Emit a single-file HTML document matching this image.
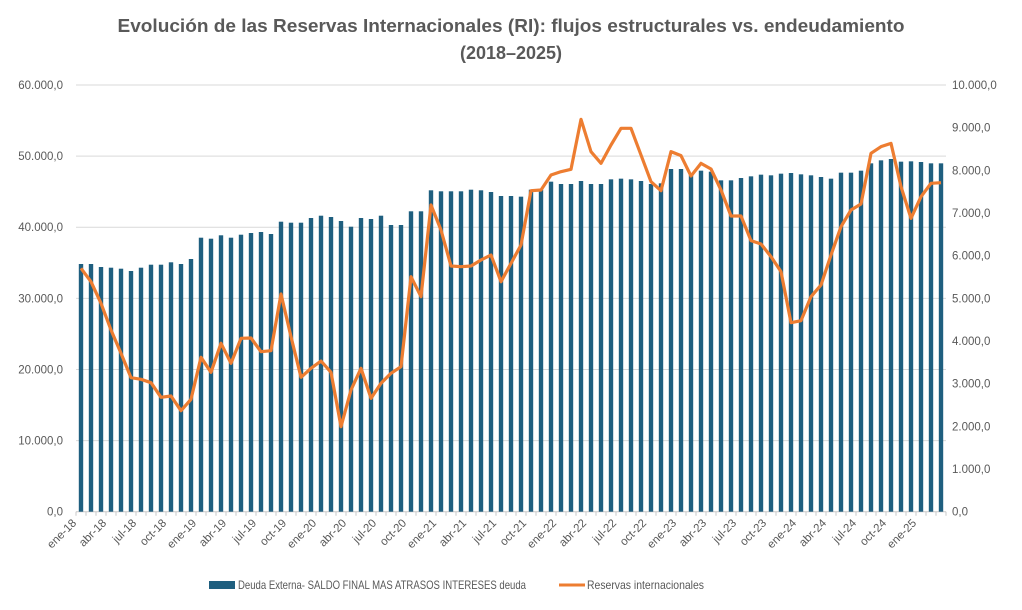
<!DOCTYPE html>
<html><head><meta charset="utf-8"><style>
body{margin:0;background:#fff;}
svg{display:block;font-family:"Liberation Sans",Arial,sans-serif;}
</style></head><body>
<svg id="c" width="1022" height="610" viewBox="0 0 1022 610" xmlns="http://www.w3.org/2000/svg">
<rect width="1022" height="610" fill="#fff"/>
<text x="511" y="32" text-anchor="middle" font-size="18" font-weight="bold" fill="#595959" textLength="787" lengthAdjust="spacingAndGlyphs">Evolución de las Reservas Internacionales (RI): flujos estructurales vs. endeudamiento</text>
<text x="511" y="59" text-anchor="middle" font-size="18" font-weight="bold" fill="#595959">(2018–2025)</text>
<g id="grid"></g><g id="bars"></g><g id="ax"></g>
<polyline id="line" fill="none" stroke="#ED7D31" stroke-width="3.2" stroke-linejoin="round"/>
<rect x="209" y="581" width="26" height="8" fill="#1F5F7F"/>
<text x="238" y="589" font-size="12" fill="#595959" textLength="288" lengthAdjust="spacingAndGlyphs">Deuda Externa- SALDO FINAL MAS ATRASOS INTERESES deuda</text>
<line x1="559" y1="585" x2="585" y2="585" stroke="#ED7D31" stroke-width="3"/>
<text x="587" y="589" font-size="12" fill="#595959" textLength="117" lengthAdjust="spacingAndGlyphs">Reservas internacionales</text>
</svg>
<script>
var ns="http://www.w3.org/2000/svg";
function el(t,a,p,tx){var e=document.createElementNS(ns,t);for(var k in a)e.setAttribute(k,a[k]);if(tx!==undefined)e.textContent=tx;document.getElementById(p).appendChild(e);return e;}
var L=76,R=946,B=511.7,T=85,step=(R-L)/87;
var ll=["0,0","10.000,0","20.000,0","30.000,0","40.000,0","50.000,0","60.000,0"];
var rl=["0,0","1.000,0","2.000,0","3.000,0","4.000,0","5.000,0","6.000,0","7.000,0","8.000,0","9.000,0","10.000,0"];
for(var i=0;i<=6;i++){var y=B-(B-T)*i/6;el("line",{x1:L,x2:R,y1:y,y2:y,stroke:i==0?"#c8c8c8":"#d9d9d9","stroke-width":1},"grid");
el("text",{x:63,y:y+4,"text-anchor":"end","font-size":"11.5",fill:"#595959"},"ax",ll[i]);}
for(var i=0;i<=10;i++){var y=B-(B-T)*i/10;el("text",{x:952,y:y+4,"font-size":"11.5",fill:"#595959"},"ax",rl[i]);}
var bt=[264,264,267,267.7,268.7,271,267.7,264.7,264.7,262.3,264,259,237.7,238.7,235.3,237.7,234.7,233,232,234,221.7,222.7,222.7,218,215.7,217,221,226.7,218,219,215.7,225,225,211.3,211.3,190.3,191.3,191.3,191.3,189.7,190.3,192,196];
var z2=[258,260,239,239,215,222,222,213,222,222,208,206,208,213,222,220,177,177,195,182,185,211,211,204,199,194,196,191,189,193,196,201,206,188,188,182,160,151,147,155,154,156,160,160];
z2.forEach(function(z){bt.push(110+z/3);});
var lz=[268.3,281.7,303.3,330,353.3,377.7,379.3,382.7,397.3,396,410.7,399.3,357.3,372.3,343.3,363.3,338.3,338,351.7,350.7,294,336.7,377.3,368.3,361,372.3,426.7,390,368.3,398.3,383.3,373.3,366.7,276.7,296.7,205,230,266,266.7,266,260,255,281.7];
var z3=[460,405,242,240,195,185,178,28,125,160,105,55,55,135,215,242,125,137,198,160,177,240,318,318,392,402,440,485,638,632,560,525,435,350,300,282,130,110,100,230,325,260,220,218];
z3.forEach(function(z){lz.push(110+z/3);});
var pts=[];
var mn=["ene","abr","jul","oct"];
for(var i=0;i<87;i++){var cx=L+step*(i+0.5);
el("rect",{x:cx-2.2,y:bt[i],width:4.4,height:B-bt[i],fill:"#1F5F7F"},"bars");
pts.push(cx.toFixed(1)+","+lz[i]);}
document.getElementById("line").setAttribute("points",pts.join(" "));
for(var i=0;i<=87;i++){var x=L+step*i;el("line",{x1:x,x2:x,y1:B,y2:B+4,stroke:"#c8c8c8"},"ax");}
for(var i=0;i<87;i+=3){var x=L+step*i+1;var yy=18+Math.floor(i/12);var lab=mn[(i%12)/3]+"-"+yy;
el("text",{x:x,y:B+12,"text-anchor":"end","font-size":"11.5",fill:"#595959",transform:"rotate(-45 "+x+" "+(B+12)+")"},"ax",lab);}
</script>
</body></html>
